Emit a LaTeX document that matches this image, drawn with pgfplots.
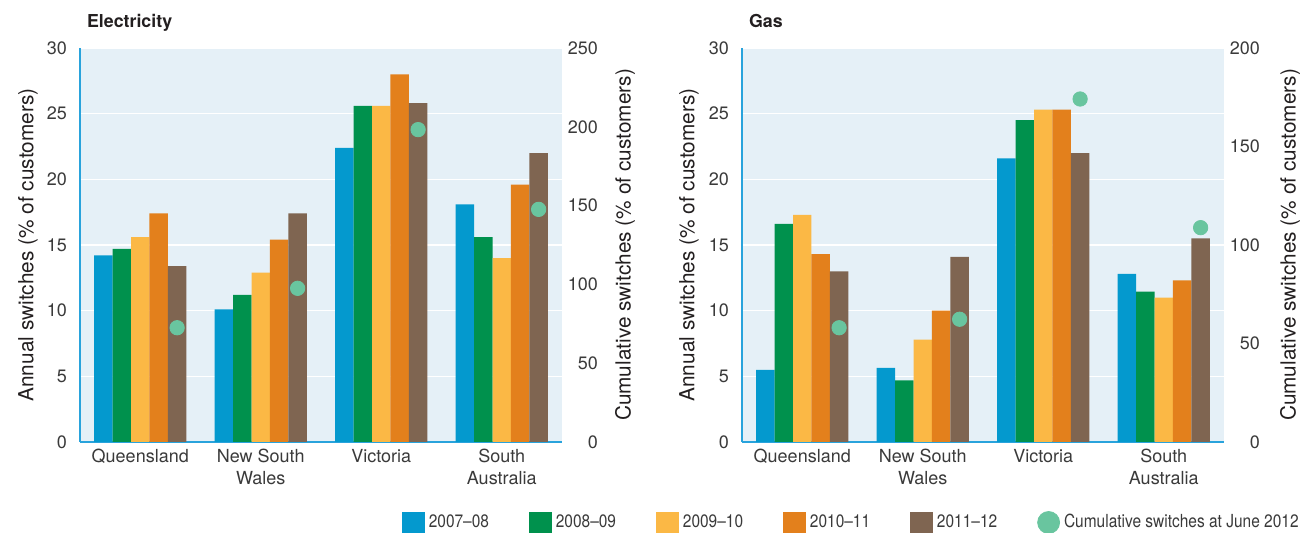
\documentclass[border=0pt]{standalone}
\usepackage{fontspec}
\setmainfont{TeX Gyre Heros}
\newfontfamily\legfont[FakeStretch=0.86,Ligatures=TeX]{TeX Gyre Heros}
\usepackage{pgfplots}
\pgfplotsset{compat=1.18}
\definecolor{cblue}{HTML}{0499CE}
\definecolor{cgreen}{HTML}{00914D}
\definecolor{cyellow}{HTML}{FBB845}
\definecolor{corange}{HTML}{E3801C}
\definecolor{cbrown}{HTML}{7F6551}
\definecolor{cdot}{HTML}{69C59F}
\definecolor{bgblue}{HTML}{E5F0F7}
\definecolor{axisblue}{HTML}{29A3DC}
\definecolor{tickgray}{HTML}{3A3A3A}
\definecolor{labelgray}{HTML}{231F20}
\pgfplotsset{
  annual/.style={
    scale only axis, width=241pt, height=197pt,
    xmin=-0.5, xmax=3.5, ymin=0, ymax=30, ytick={0,5,...,30},
    xtick={0,1,2,3},
    xticklabels={Queensland,{New South\\Wales},Victoria,{South\\Australia}},
    axis x line*=bottom, axis y line*=left,
    x axis line style={draw=axisblue, line width=1pt, -},
    y axis line style={draw=axisblue, line width=1pt, -},
    major tick length=0pt,
    axis background/.style={fill=bgblue},
    ymajorgrids, grid style={white, line width=0.8pt},
    tick label style={font=\fontsize{9}{11}\selectfont, text=tickgray},
    xticklabel style={align=center},
    yticklabel style={xshift=-3pt},
    /pgf/number format/assume math mode=true,
    label style={font=\fontsize{10.4}{12}\selectfont, text=labelgray},
    ylabel={Annual switches (\% of customers)},
    ylabel style={at={(axis description cs:-0.108,0.5)}, anchor=center},
    title style={at={(axis description cs:0,1)}, anchor=base west, yshift=4pt,
      font=\bfseries\fontsize{8.9}{11}\selectfont, text=labelgray},
  },
  cum/.style={
    scale only axis, width=241pt, height=197pt,
    xmin=-0.5, xmax=3.5, ymin=0,
    axis x line=none, axis y line*=right,
    y axis line style={draw=none},
    major tick length=0pt,
    tick label style={font=\fontsize{9}{11}\selectfont, text=tickgray},
    yticklabel style={anchor=east, xshift=21.5pt},
    /pgf/number format/assume math mode=true,
    label style={font=\fontsize{10.4}{12}\selectfont, text=labelgray},
    ylabel={Cumulative switches (\% of customers)},
  },
  bw/.style={ybar, bar width=0.153, bar shift=#1, draw=none},
}
\begin{document}
\begin{tikzpicture}
\useasboundingbox (0,0) rectangle (651pt,266.5pt);
% Electricity annual
\begin{axis}[annual, at={(40pt,45.5pt)}, anchor=south west, title={Electricity}]
\addplot[bw=-0.306, fill=cblue] coordinates {(0,14.2) (1,10.1) (2,22.4) (3,18.1)};
\addplot[bw=-0.153, fill=cgreen] coordinates {(0,14.7) (1,11.2) (2,25.6) (3,15.6)};
\addplot[bw=0, fill=cyellow] coordinates {(0,15.6) (1,12.9) (2,25.6) (3,14.0)};
\addplot[bw=0.153, fill=corange] coordinates {(0,17.4) (1,15.4) (2,28.0) (3,19.6)};
\addplot[bw=0.306, fill=cbrown] coordinates {(0,13.4) (1,17.4) (2,25.8) (3,22.0)};
\end{axis}
\begin{axis}[cum, at={(40pt,45.5pt)}, anchor=south west, ymax=250, ytick={0,50,...,250},
  ylabel style={at={(axis description cs:1.131,0.5)}, anchor=center}]
\addplot[only marks, mark=*, mark size=3.6pt, color=cdot] coordinates {(0.306,72.5) (1.306,97.5) (2.306,198.2) (3.306,147.6)};
\end{axis}
% Gas annual
\begin{axis}[annual, at={(371pt,45.5pt)}, anchor=south west, title={Gas},
  ylabel style={at={(axis description cs:-0.11,0.5)}}]
\addplot[bw=-0.306, fill=cblue] coordinates {(0,5.5) (1,5.65) (2,21.6) (3,12.8)};
\addplot[bw=-0.153, fill=cgreen] coordinates {(0,16.6) (1,4.7) (2,24.5) (3,11.45)};
\addplot[bw=0, fill=cyellow] coordinates {(0,17.3) (1,7.8) (2,25.3) (3,11.0)};
\addplot[bw=0.153, fill=corange] coordinates {(0,14.3) (1,10.0) (2,25.3) (3,12.3)};
\addplot[bw=0.306, fill=cbrown] coordinates {(0,13.0) (1,14.1) (2,22.0) (3,15.5)};
\end{axis}
\begin{axis}[cum, at={(371pt,45.5pt)}, anchor=south west, ymax=200, ytick={0,50,...,200},
  ylabel style={at={(axis description cs:1.137,0.5)}, anchor=center},
  legend columns=6,
  legend style={at={(axis description cs:-0.7054,-0.2043)}, anchor=west, draw=none, fill=none,
    inner sep=0pt, outer sep=0pt,
    font=\legfont\fontsize{9}{10}\selectfont, text=tickgray,
    /tikz/every odd column/.append style={column sep=0pt},
    /tikz/every even column/.append style={column sep=18pt}},
  legend cell align=left]
\addlegendimage{legend image code/.code={\fill[cblue] (0pt,-5.25pt) rectangle (11pt,5.25pt);}}
\addlegendimage{legend image code/.code={\fill[cgreen] (0pt,-5.25pt) rectangle (11pt,5.25pt);}}
\addlegendimage{legend image code/.code={\fill[cyellow] (0pt,-5.25pt) rectangle (11pt,5.25pt);}}
\addlegendimage{legend image code/.code={\fill[corange] (0pt,-5.25pt) rectangle (11pt,5.25pt);}}
\addlegendimage{legend image code/.code={\fill[cbrown] (0pt,-5.25pt) rectangle (11pt,5.25pt);}}
\addplot[only marks, mark=*, mark size=3.6pt, color=cdot,
  legend image code/.code={\fill[cdot] (5.5pt,0pt) circle (5.5pt);}]
  coordinates {(0.306,58.0) (1.306,62.3) (2.306,174.1) (3.306,108.8)};
\legend{2007–08,2008–09,2009–10,2010–11,2011–12,Cumulative switches at June 2012}
\end{axis}
\end{tikzpicture}
\end{document}
